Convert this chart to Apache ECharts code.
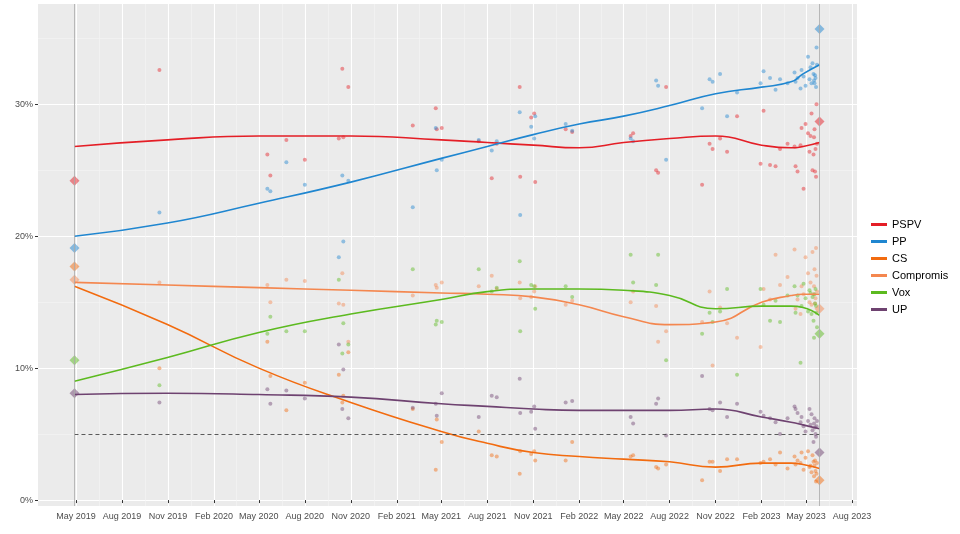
<!DOCTYPE html>
<html>
<head>
<meta charset="utf-8">
<script src="https://cdn.jsdelivr.net/npm/echarts@6/dist/echarts.min.js"></script>
<style>html,body{margin:0;padding:0;background:#fff}#chart{width:960px;height:534px}</style>
</head>
<body>
<div id="chart"></div>
<script>
var parties = ['PSPV', 'PP', 'CS', 'Compromis', 'Vox', 'UP'];
var colors = ['#E41E26', '#1F86D0', '#F26B0F', '#F4874F', '#5CBA1F', '#6E4270'];

// date, PSPV, PP, CS, Compromis, Vox, UP
var polls = [
  ['2019-10-15', 32.6, 21.8, 10.0, 16.5, 8.7, 7.4],
  ['2020-05-18', 26.2, 23.6, 12.0, 16.3, 12.6, 8.4],
  ['2020-05-24', 24.6, 23.4, 9.4, 15.0, 13.9, 7.3],
  ['2020-06-25', 27.3, 25.6, 6.8, 16.7, 12.8, 8.3],
  ['2020-08-01', 25.8, 23.9, 8.9, 16.6, 12.8, 7.7],
  ['2020-10-08', 27.4, 18.4, 9.5, 14.9, 16.7, 11.8],
  ['2020-10-15', 32.7, 24.6, 7.4, 17.2, 11.1, 6.9],
  ['2020-10-17', 27.5, 19.6, 7.9, 14.8, 13.4, 9.9],
  ['2020-10-27', 31.3, 24.2, 11.2, 12.0, 11.8, 6.2],
  ['2021-03-05', 28.4, 22.2, 6.9, 15.5, 17.5, 7.0],
  ['2021-04-20', 29.7, 28.2, 2.3, 16.3, 13.3, 7.3],
  ['2021-04-22', 28.1, 25.0, 6.1, 16.1, 13.6, 6.4],
  ['2021-05-02', 28.2, 25.8, 4.4, 16.5, 13.5, 8.1],
  ['2021-07-15', 27.2, 27.3, 5.2, 16.2, 17.5, 6.3],
  ['2021-08-10', 24.4, 26.5, 3.4, 17.0, 15.8, 7.9],
  ['2021-08-20', 27.0, 27.2, 3.3, 16.0, 16.1, 7.8],
  ['2021-10-05', 31.3, 29.4, 2.0, 16.5, 18.1, 9.2],
  ['2021-10-06', 24.5, 21.6, 3.7, 15.3, 12.8, 6.6],
  ['2021-10-28', 29.0, 28.3, 3.5, 15.4, 16.3, 6.7],
  ['2021-11-03', 29.3, 27.4, 3.7, 15.8, 16.2, 7.1],
  ['2021-11-05', 24.1, 29.1, 3.0, 16.2, 14.5, 5.4],
  ['2022-01-05', 28.1, 28.5, 3.0, 14.8, 16.2, 7.4],
  ['2022-01-18', 27.9, 28.0, 4.4, 15.1, 15.4, 7.5],
  ['2022-05-15', 27.6, 27.4, 3.3, 15.0, 18.6, 6.3],
  ['2022-05-20', 27.8, 27.2, 3.4, 15.8, 16.5, 5.8],
  ['2022-07-05', 25.0, 31.8, 2.5, 14.7, 16.3, 7.3],
  ['2022-07-09', 24.8, 31.4, 2.4, 12.0, 18.6, 7.7],
  ['2022-07-25', 31.3, 25.8, 2.7, 12.8, 10.6, 4.9],
  ['2022-10-05', 23.9, 29.7, 1.5, 13.5, 12.6, 9.4],
  ['2022-10-20', 27.0, 31.9, 2.9, 15.8, 14.2, 6.9],
  ['2022-10-26', 26.6, 31.7, 2.9, 10.2, 13.5, 6.8],
  ['2022-11-10', 27.4, 32.3, 2.2, 14.6, 14.3, 7.4],
  ['2022-11-24', 26.4, 29.1, 3.1, 13.4, 16.0, 6.3],
  ['2022-12-14', 29.1, 30.9, 3.1, 12.3, 9.5, 7.3],
  ['2023-01-30', 25.5, 31.6, 2.8, 11.6, 16.0, 6.7],
  ['2023-02-05', 29.5, 32.5, 2.9, 16.0, 14.8, 6.4],
  ['2023-02-18', 25.4, 32.0, 3.1, 15.2, 13.6, 6.2],
  ['2023-03-01', 25.3, 31.1, 2.7, 18.6, 15.1, 5.9],
  ['2023-03-10', 26.6, 31.9, 3.6, 16.3, 13.5, 5.0],
  ['2023-03-25', 27.0, 31.6, 2.4, 16.9, 15.5, 6.2],
  ['2023-04-08', 26.8, 32.4, 3.3, 19.0, 16.2, 7.1],
  ['2023-04-10', 25.3, 31.7, 2.7, 14.5, 14.2, 6.9],
  ['2023-04-14', 24.9, 32.0, 3.0, 15.2, 15.5, 6.6],
  ['2023-04-20', 26.9, 31.2, 2.8, 14.1, 10.4, 5.9],
  ['2023-04-22', 28.2, 32.6, 3.6, 16.2, 14.7, 6.3],
  ['2023-04-26', 23.6, 32.1, 2.3, 15.6, 16.4, 5.6],
  ['2023-04-30', 28.5, 31.4, 3.2, 18.4, 15.3, 5.2],
  ['2023-05-05', 27.8, 33.6, 3.7, 17.2, 14.3, 6.0],
  ['2023-05-08', 26.4, 31.9, 2.5, 15.0, 15.9, 6.9],
  ['2023-05-10', 27.6, 32.8, 2.6, 16.5, 15.7, 5.7],
  ['2023-05-12', 29.3, 31.6, 2.1, 14.8, 14.1, 6.5],
  ['2023-05-14', 25.0, 33.1, 3.4, 18.8, 15.4, 5.3],
  ['2023-05-16', 26.2, 32.3, 2.9, 15.6, 13.6, 4.4],
  ['2023-05-17', 27.5, 31.8, 1.8, 16.2, 12.3, 5.8],
  ['2023-05-18', 28.1, 31.6, 2.6, 17.5, 15.6, 6.2],
  ['2023-05-19', 24.9, 32.2, 3.0, 14.9, 14.9, 5.5],
  ['2023-05-20', 26.6, 32.0, 2.2, 15.3, 16.0, 5.0],
  ['2023-05-21', 24.5, 31.3, 1.4, 19.1, 14.7, 4.8],
  ['2023-05-22', 30.0, 34.3, 2.0, 17.0, 14.2, 5.6],
  ['2023-05-23', 27.0, 33.0, 2.8, 15.8, 13.1, 6.0]
];

var elections = [
  ['2019-04-28', 24.2, 19.1, 17.7, 16.7, 10.6, 8.1],
  ['2023-05-28', 28.7, 35.7, 1.5, 14.5, 12.6, 3.6]
];

// smoothed trend
var trendDates = ['2019-04-28', '2019-10-31', '2020-05-01', '2020-11-01', '2021-05-01',
  '2021-08-01', '2021-11-01', '2022-02-01', '2022-05-01', '2022-08-01', '2022-11-01',
  '2023-02-01', '2023-04-01', '2023-04-25', '2023-05-28'];
var trend = {
  PSPV:      [26.8, 27.3, 27.6, 27.6, 27.3, 27.1, 26.9, 26.7, 27.1, 27.4, 27.6, 26.9, 26.7, 26.8, 27.1],
  PP:        [20.0, 21.0, 22.5, 24.1, 25.9, 26.8, 27.7, 28.5, 29.1, 29.9, 30.8, 31.3, 31.7, 32.3, 33.0],
  CS:        [16.2, 13.3, 10.0, 7.4, 5.2, 4.3, 3.6, 3.3, 3.1, 2.9, 2.5, 2.8, 2.8, 2.7, 2.4],
  Compromis: [16.5, 16.3, 16.1, 15.9, 15.7, 15.6, 15.4, 14.8, 13.9, 13.3, 13.5, 15.0, 15.5, 15.6, 15.6],
  Vox:       [9.0, 10.8, 12.7, 14.1, 15.2, 15.8, 16.0, 16.0, 15.9, 15.5, 14.5, 14.7, 14.7, 14.6, 14.0],
  UP:        [8.0, 8.1, 8.0, 7.8, 7.3, 7.1, 6.9, 6.8, 6.8, 6.8, 6.9, 6.3, 5.9, 5.7, 5.4]
};

function ts(d) { return Date.parse(d + 'T00:00:00Z'); }
var xMin = ts('2019-02-14'), xMax = ts('2023-08-11');
var majorX = ['2019-05-01', '2019-08-01', '2019-11-01', '2020-02-01', '2020-05-01', '2020-08-01',
  '2020-11-01', '2021-02-01', '2021-05-01', '2021-08-01', '2021-11-01', '2022-02-01', '2022-05-01',
  '2022-08-01', '2022-11-01', '2023-02-01', '2023-05-01', '2023-08-01'].map(ts);
var minorX = [];
for (var i = 0; i < majorX.length - 1; i++) minorX.push((majorX[i] + majorX[i + 1]) / 2);
var monthNames = ['Jan', 'Feb', 'Mar', 'Apr', 'May', 'Jun', 'Jul', 'Aug', 'Sep', 'Oct', 'Nov', 'Dec'];

var series = [];
parties.forEach(function (p, k) {
  series.push({
    name: p, type: 'scatter', symbolSize: 4, z: 2,
    itemStyle: { color: colors[k], opacity: 0.45 },
    data: polls.map(function (r) { return [ts(r[0]), r[k + 1]]; })
  });
  series.push({
    name: p, type: 'scatter', symbol: 'diamond', symbolSize: 10, z: 3,
    itemStyle: { color: colors[k], opacity: 0.5 },
    data: elections.map(function (r) { return [ts(r[0]), r[k + 1]]; })
  });
  series.push({
    name: p, type: 'line', smooth: 0.5, showSymbol: false, z: 4,
    lineStyle: { color: colors[k], width: 1.6 }, itemStyle: { color: colors[k] },
    data: trendDates.map(function (d, j) { return [ts(d), trend[p][j]]; })
  });
});
series.push({
  type: 'line', data: [], silent: true,
  markLine: {
    symbol: 'none', silent: true, label: { show: false },
    data: [
      [{ coord: [ts('2019-04-28'), 5], lineStyle: { color: '#333', type: [4, 3], width: 0.8 } }, { coord: [ts('2023-05-28'), 5] }],
      { xAxis: ts('2019-04-28'), lineStyle: { color: '#aaa', type: 'solid', width: 0.8 } },
      { xAxis: ts('2023-05-28'), lineStyle: { color: '#aaa', type: 'solid', width: 0.8 } }
    ]
  }
});

var chart = echarts.init(document.getElementById('chart'));
chart.setOption({
  animation: false,
  textStyle: { fontFamily: 'Liberation Sans, Arial, sans-serif' },
  grid: { left: 38, right: 103, top: 4, bottom: 28, show: true, backgroundColor: '#EBEBEB', borderWidth: 0 },
  legend: {
    orient: 'vertical', left: 866, top: 'middle', itemGap: 6,
    itemWidth: 16, itemHeight: 3, icon: 'rect',
    textStyle: { fontSize: 11, color: '#000' },
    data: parties.map(function (p, k) { return { name: p, itemStyle: { color: colors[k], opacity: 1 } }; })
  },
  xAxis: [{
    type: 'value', min: xMin, max: xMax,
    axisLine: { show: false },
    axisTick: { show: true, length: 3, customValues: majorX, lineStyle: { color: '#333' } },
    axisLabel: {
      customValues: majorX, fontSize: 9, color: '#4d4d4d', margin: 6,
      formatter: function (v) { var d = new Date(v); return monthNames[d.getUTCMonth()] + ' ' + d.getUTCFullYear(); }
    },
    splitLine: { show: true, lineStyle: { color: '#fff', width: 1.1 } }
  }, {
    type: 'value', min: xMin, max: xMax, position: 'bottom',
    axisLine: { show: false }, axisLabel: { show: false, customValues: minorX },
    axisTick: { show: false, customValues: minorX },
    splitLine: { show: true, lineStyle: { color: '#F5F5F5', width: 0.6 } }
  }],
  yAxis: [{
    type: 'value', min: -0.45, max: 37.6,
    axisLine: { show: false },
    axisTick: { show: true, length: 3, customValues: [0, 10, 20, 30], lineStyle: { color: '#333' } },
    axisLabel: { customValues: [0, 10, 20, 30], fontSize: 9, color: '#4d4d4d', margin: 5,
      formatter: function (v) { return v + '%'; } },
    splitLine: { show: true, lineStyle: { color: '#fff', width: 1.1 } }
  }, {
    type: 'value', min: -0.45, max: 37.6, position: 'left',
    axisLine: { show: false }, axisLabel: { show: false, customValues: [5, 15, 25, 35] },
    axisTick: { show: false, customValues: [5, 15, 25, 35] },
    splitLine: { show: true, lineStyle: { color: '#F5F5F5', width: 0.6 } }
  }],
  series: series
});
</script>
</body>
</html>
